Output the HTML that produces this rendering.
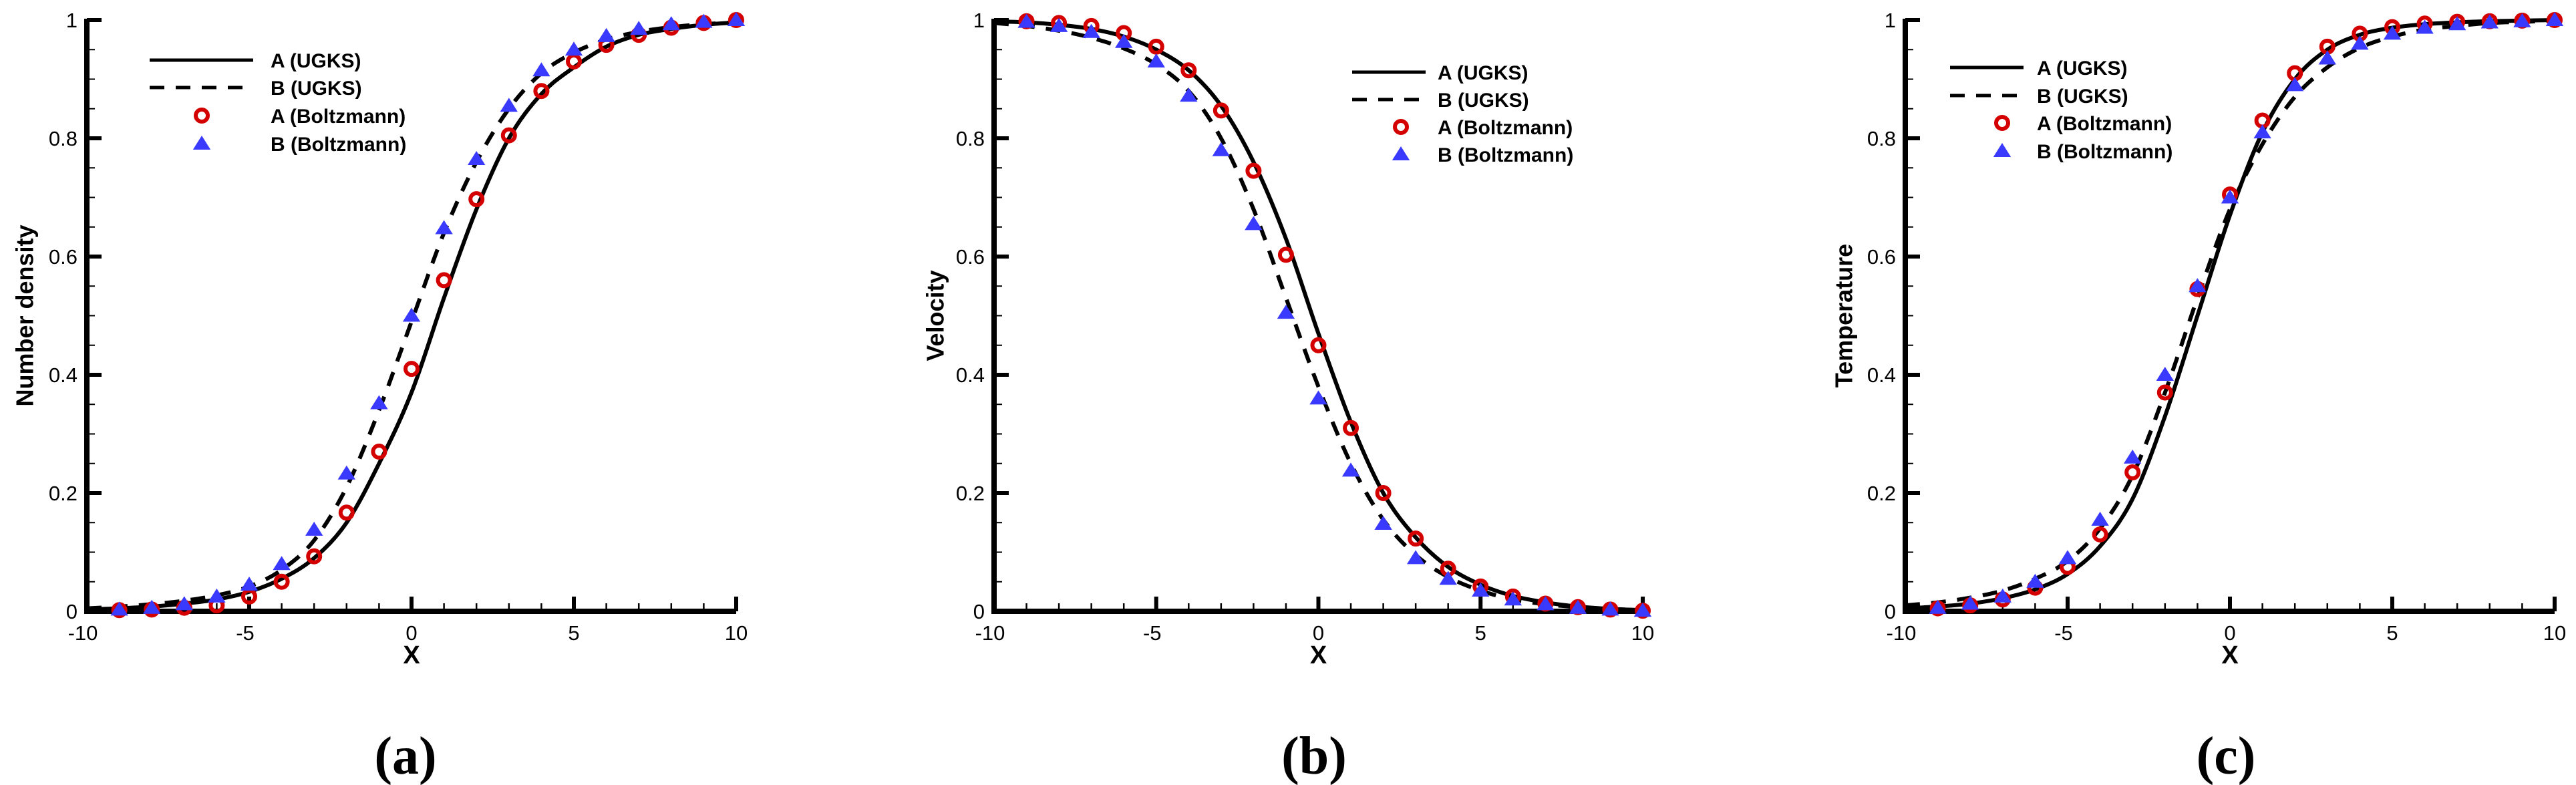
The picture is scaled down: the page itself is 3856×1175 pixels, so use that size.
<!DOCTYPE html>
<html><head><meta charset="utf-8"><style>
html,body{margin:0;padding:0;background:#fff;}
svg{display:block;font-family:"Liberation Sans",Arial,sans-serif;}
</style></head><body>
<svg id="fig" width="3856" height="1175" viewBox="0 0 3856 1175" xmlns="http://www.w3.org/2000/svg"></svg>
<script>
const xCats=[-10,-9,-8,-7,-6,-5,-4,-3,-2,-1,0,1,2,3,4,5,6,7,8,9,10];
const markerX=[-9,-8,-7,-6,-5,-4,-3,-2,-1,0,1,2,3,4,5,6,7,8,9,10];
const xTicks=[-10,-5,0,5,10];
const yTicks=[0,0.2,0.4,0.6,0.8,1];
const yTickLabels=["0","0.2","0.4","0.6","0.8","1"];
// Panel a
const aSolidA=[0.003,0.005,0.008,0.013,0.02,0.033,0.055,0.09,0.15,0.25,0.37,0.53,0.68,0.8,0.875,0.92,0.955,0.975,0.985,0.992,0.996];
const aDashB=[0.005,0.008,0.012,0.018,0.027,0.042,0.07,0.12,0.21,0.34,0.49,0.64,0.76,0.85,0.91,0.945,0.967,0.98,0.988,0.993,0.996];
const aBoltzA=[0.002,0.003,0.006,0.01,0.025,0.05,0.093,0.167,0.27,0.41,0.56,0.697,0.805,0.88,0.93,0.958,0.975,0.987,0.995,1.0];
const aBoltzB=[0.003,0.006,0.012,0.025,0.045,0.08,0.138,0.233,0.352,0.5,0.648,0.765,0.855,0.915,0.95,0.973,0.985,0.993,0.997,1.0];
// Panel b
const bSolidA=[0.998,0.996,0.992,0.985,0.972,0.95,0.915,0.855,0.76,0.63,0.47,0.32,0.2,0.125,0.075,0.045,0.026,0.015,0.008,0.004,0.002];
const bDashB=[0.995,0.99,0.982,0.97,0.952,0.925,0.88,0.8,0.68,0.53,0.38,0.25,0.155,0.095,0.058,0.035,0.02,0.012,0.007,0.004,0.002];
const bBoltzA=[0.998,0.995,0.99,0.978,0.955,0.915,0.847,0.745,0.603,0.45,0.31,0.2,0.123,0.072,0.042,0.025,0.013,0.007,0.003,0.001];
const bBoltzB=[0.997,0.99,0.98,0.963,0.93,0.872,0.78,0.655,0.505,0.36,0.238,0.148,0.09,0.055,0.035,0.02,0.012,0.006,0.003,0.001];
// Panel c
const cSolidA=[0.005,0.008,0.013,0.022,0.037,0.063,0.11,0.19,0.33,0.5,0.67,0.81,0.9,0.95,0.975,0.987,0.993,0.996,0.998,0.999,1.0];
const cDashB=[0.01,0.015,0.023,0.035,0.055,0.085,0.14,0.23,0.37,0.53,0.68,0.79,0.87,0.92,0.953,0.972,0.984,0.99,0.995,0.997,0.999];
const cBoltzA=[0.005,0.01,0.02,0.04,0.075,0.13,0.235,0.37,0.545,0.705,0.83,0.91,0.955,0.977,0.988,0.994,0.997,0.998,0.999,1.0];
const cBoltzB=[0.006,0.013,0.025,0.05,0.09,0.155,0.26,0.4,0.55,0.7,0.81,0.89,0.935,0.96,0.977,0.987,0.993,0.996,0.998,1.0];

const NS="http://www.w3.org/2000/svg";
const svg=document.getElementById('fig');
function mk(tag,attrs,parent,text){const e=document.createElementNS(NS,tag);for(const k in attrs)e.setAttribute(k,attrs[k]);if(text!==undefined)e.textContent=text;(parent||svg).appendChild(e);return e;}

const panels=[
 {id:'a',left:130,right:1102,ytitle:'Number density',ytx:37,solid:aSolidA,dash:aDashB,ba:aBoltzA,bb:aBoltzB,cap:'(a)',capx:607,
  leg:{lx1:224,lx2:379,tx:405,mx:302,rows:[90,131,173,215]}},
 {id:'b',left:1488,right:2459,ytitle:'Velocity',ytx:1400,solid:bSolidA,dash:bDashB,ba:bBoltzA,bb:bBoltzB,cap:'(b)',capx:1967,
  leg:{lx1:2024,lx2:2134,tx:2152,mx:2097,rows:[108,149,190,231]}},
 {id:'c',left:2852,right:3824,ytitle:'Temperature',ytx:2760,solid:cSolidA,dash:cDashB,ba:cBoltzA,bb:cBoltzB,cap:'(c)',capx:3332,
  leg:{lx1:2919,lx2:3029,tx:3049,mx:2997,rows:[101,143,184,226]}}
];
const yTop=30,yBottom=915;

function smoothPath(pts){
 let d='M'+pts[0][0].toFixed(1)+','+pts[0][1].toFixed(1);
 for(let i=0;i<pts.length-1;i++){
  const p0=pts[Math.max(0,i-1)],p1=pts[i],p2=pts[i+1],p3=pts[Math.min(pts.length-1,i+2)];
  const c1x=p1[0]+(p2[0]-p0[0])/6,c1y=p1[1]+(p2[1]-p0[1])/6;
  const c2x=p2[0]-(p3[0]-p1[0])/6,c2y=p2[1]-(p3[1]-p1[1])/6;
  d+=' C'+c1x.toFixed(1)+','+c1y.toFixed(1)+' '+c2x.toFixed(1)+','+c2y.toFixed(1)+' '+p2[0].toFixed(1)+','+p2[1].toFixed(1);
 }
 return d;
}
function circle(g,x,y){return mk('circle',{cx:x,cy:y,r:9,fill:'none',stroke:'#d40000','stroke-width':6},g);}
function tri(g,x,y){const s=12;return mk('polygon',{points:`${x},${y-s} ${x-s*1.1},${y+s*0.75} ${x+s*1.1},${y+s*0.75}`,fill:'#3a3aff'},g);}

panels.forEach(p=>{
 const xs=v=>p.left+(v+10)/20*(p.right-p.left);
 const ys=v=>yBottom-v*(yBottom-yTop);
 const g=mk('g',{});
 
 
 for(let v=-10;v<=10;v++){const t=mk('line',{x1:xs(v),x2:xs(v),y1:yBottom,y2:yBottom-(v%5===0?22:12),stroke:'#000','stroke-width':v%5===0?6:2.5},g);
  
  }
 for(let i=0;i<=20;i++){const v=i*0.05;const major=i%4===0;const t=mk('line',{x1:p.left,x2:p.left+(major?22:12),y1:ys(v),y2:ys(v),stroke:'#000','stroke-width':major?6:2},g);
  
  }
 const ax=mk('path',{d:`M${p.left},${yTop-2} L${p.left},${yBottom} L${p.right},${yBottom}`,fill:'none',stroke:'#000','stroke-width':8},g);
 
 
 xTicks.forEach(v=>{const t=mk('text',{x:xs(v)-(v<0?6:0),y:yBottom+43,'font-size':31,'text-anchor':'middle'},g,String(v));
  
  });
 yTicks.forEach((v,i)=>{const t=mk('text',{x:p.left-14,y:ys(v)+11,'font-size':31,'text-anchor':'end'},g,yTickLabels[i]);
  
  });
 const xt=mk('text',{x:(p.left+p.right)/2,y:yBottom+78,'font-size':38,'font-weight':'bold','text-anchor':'middle'},g,'X');
 
 
 const yc=(yTop+yBottom)/2;
 const yt=mk('text',{x:p.ytx,y:yc,'font-size':36,'font-weight':'bold','text-anchor':'middle',transform:`rotate(-90 ${p.ytx} ${yc})`,'dominant-baseline':'central'},g,p.ytitle);
 
 
 const sp=mk('path',{d:smoothPath(xCats.map((x,i)=>[xs(x),ys(p.solid[i])])),fill:'none',stroke:'#000','stroke-width':6},g);
 
 
 const dp=mk('path',{d:smoothPath(xCats.map((x,i)=>[xs(x),ys(p.dash[i])])),fill:'none',stroke:'#000','stroke-width':6,'stroke-dasharray':'22,17'},g);
 
 
 markerX.forEach((x,i)=>{const c=circle(g,xs(x),ys(p.ba[i]));
  
  });
 markerX.forEach((x,i)=>{const t=tri(g,xs(x),ys(p.bb[i]));
  
  });
 const L=p.leg;const lg=mk('g',{},g);
 
 
 mk('line',{x1:L.lx1,x2:L.lx2,y1:L.rows[0],y2:L.rows[0],stroke:'#000','stroke-width':5},lg);
 mk('line',{x1:L.lx1,x2:L.lx2,y1:L.rows[1],y2:L.rows[1],stroke:'#000','stroke-width':5,'stroke-dasharray':'22,17'},lg);
 circle(lg,L.mx,L.rows[2]);tri(lg,L.mx,L.rows[3]);
 const labels=['A (UGKS)','B (UGKS)','A (Boltzmann)','B (Boltzmann)'];
 labels.forEach((s,i)=>{const t=mk('text',{x:L.tx,y:L.rows[i]+11,'font-size':30,'font-weight':'bold'},lg,s);
  
  });
 const cap=mk('text',{x:p.capx,y:1158,'font-size':80,'font-weight':'bold','text-anchor':'middle','font-family':'"Liberation Serif",serif'},g,p.cap);
 
 
});
</script>
</body></html>
